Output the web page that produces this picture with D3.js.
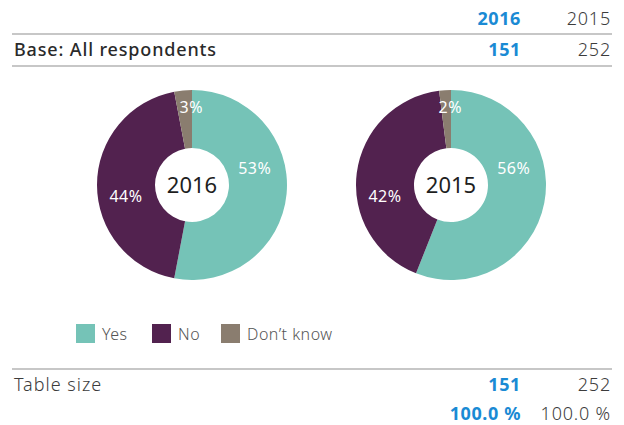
<!DOCTYPE html>
<html>
<head>
<meta charset="utf-8">
<script src="https://cdn.jsdelivr.net/npm/d3@7/dist/d3.min.js"></script>
<style>
  html, body { margin: 0; padding: 0; background: #fff; }
  svg { display: block; font-family: "Noto Sans", "Open Sans", sans-serif; }
</style>
</head>
<body>
<svg id="chart" width="624" height="425"></svg>
<script>
// Survey answers by year
const years = ["2016", "2015"];
const categories = ["Yes", "No", "Don\u2019t know"];
const values2016 = [53, 44, 3];
const values2015 = [56, 42, 2];
const baseCounts = [151, 252];
const tableSizes = [151, 252];
const tableTotals = ["100.0 %", "100.0 %"];

const colors = d3.scaleOrdinal()
  .domain(categories)
  .range(["#75c3b7", "#52224f", "#8a7d6f"]);

const blue = "#1a8ad4";
const grey = "#3c3c3c";
const rule = "#b4b4b4";

const svg = d3.select("#chart");

// column positions for the two years (right edges)
const colX = d3.scaleOrdinal().domain(years).range([521, 611]);

function numCell(sel, x, y, text, current) {
  sel.append("text")
    .attr("x", x).attr("y", y)
    .attr("text-anchor", "end")
    .attr("font-size", 18)
    .attr("font-weight", current ? 700 : 300)
    .attr("letter-spacing", current ? 0.6 : 0.8)
    .attr("fill", current ? blue : grey)
    .text(text);
}

// ---- header table ----
const header = svg.append("g");
years.forEach((y, i) => {
  numCell(header, colX(y), 25, y, i === 0);
  numCell(header, colX(y), 56, baseCounts[i], i === 0);
});
header.append("text")
  .attr("x", 14).attr("y", 56)
  .attr("font-size", 18)
  .attr("font-weight", 500)
  .attr("letter-spacing", 0.85)
  .attr("fill", "#2a2a2a")
  .text("Base: All respondents");
[34, 66].forEach(y => header.append("line")
  .attr("x1", 12).attr("x2", 612).attr("y1", y).attr("y2", y)
  .attr("stroke", rule).attr("stroke-width", 1.5));

// ---- donuts ----
const outerR = 95, innerR = 37;
const pie = d3.pie().sort(null).value(d => d.value);
const arc = d3.arc().innerRadius(innerR).outerRadius(outerR);
const centers = d3.scaleOrdinal().domain(years).range([192, 451]);
const cy = 185;

// label placement: angle (degrees clockwise from top) and radius per slice
const labelAngle = [75, 260, 359.5];
const labelRadius = [65, 67, 78];

const seriesByYear = { "2016": values2016, "2015": values2015 };

years.forEach(year => {
  const data = categories.map((c, i) => ({ cat: c, value: seriesByYear[year][i] }));
  const g = svg.append("g").attr("transform", `translate(${centers(year)},${cy})`);
  const arcs = pie(data);

  g.selectAll("path").data(arcs).join("path")
    .attr("d", arc)
    .attr("fill", d => colors(d.data.cat));

  g.selectAll("text.pct").data(arcs).join("text")
    .attr("class", "pct")
    .attr("x", (d, i) => labelRadius[i] * Math.sin(labelAngle[i] * Math.PI / 180))
    .attr("y", (d, i) => -labelRadius[i] * Math.cos(labelAngle[i] * Math.PI / 180))
    .attr("dy", "0.36em")
    .attr("text-anchor", "middle")
    .attr("font-size", 16)
    .attr("font-weight", 400)
    .attr("letter-spacing", 0.5)
    .attr("fill", "#fff")
    .text(d => d.data.value + "%");

  g.append("text")
    .attr("text-anchor", "middle")
    .attr("dy", "0.36em")
    .attr("font-size", 22)
    .attr("font-weight", 400)
    .attr("fill", "#1e1e1e")
    .text(year);
});

// ---- legend ----
const legendX = [76, 152, 221];
const legend = svg.append("g");
categories.forEach((c, i) => {
  legend.append("rect")
    .attr("x", legendX[i]).attr("y", 324)
    .attr("width", 19).attr("height", 19)
    .attr("fill", colors(c));
  legend.append("text")
    .attr("x", legendX[i] + 26).attr("y", 340)
    .attr("font-size", 16)
    .attr("font-weight", 300)
    .attr("letter-spacing", 0.5)
    .attr("fill", "#555")
    .text(c);
});

// ---- footer table ----
const footer = svg.append("g");
footer.append("line")
  .attr("x1", 12).attr("x2", 612).attr("y1", 369).attr("y2", 369)
  .attr("stroke", rule).attr("stroke-width", 1.5);
footer.append("text")
  .attr("x", 14).attr("y", 391)
  .attr("font-size", 18).attr("font-weight", 300)
  .attr("letter-spacing", 1.0)
  .attr("fill", grey)
  .text("Table size");
years.forEach((y, i) => {
  numCell(footer, colX(y), 391, tableSizes[i], i === 0);
  numCell(footer, colX(y), 420, tableTotals[i], i === 0);
});
</script>
</body>
</html>
